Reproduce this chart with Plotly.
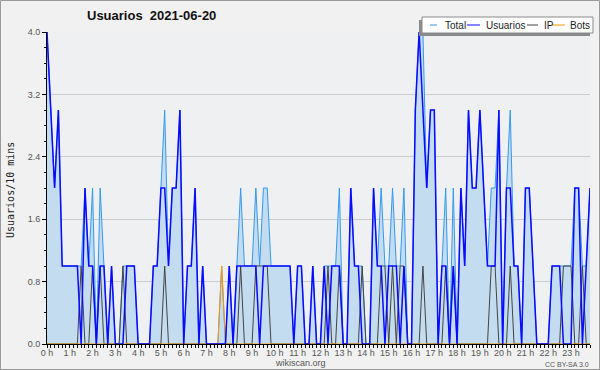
import plotly.graph_objects as go

# 10-minute slots, 0:00 .. 23:50 (144 values)
usuarios = [4,3,2,3,1,1,1,1,1,0, 2,1,1,0,1,1,0,1,0,0,
            0,1,1,1,0,0,0,0,1,1, 2,2,1,2,2,3,0,1,1,2,
            0,1,0,0,0,0,0,0,1,0, 1,1,1,1,1,1,0,1,1,1,
            1,1,1,1,1,0,1,1,0,0, 1,0,0,1,0,1,1,1,0,0,
            2,1,1,0,0,0,2,1,1,0, 1,1,1,0,1,0,0,3,4,3,
            2,3,3,0,1,1,0,1,0,2, 1,3,2,2,3,2,1,1,1,3,
            0,2,2,1,1,0,2,2,1,0, 0,0,0,1,1,1,0,0,0,2,
            2,0,1,2]
ip =       [0,0,0,0,0,0,0,0,0,1, 0,0,1,0,1,0,0,0,0,0,
            1,0,0,0,0,0,0,0,0,0, 0,1,0,0,0,0,0,0,0,0,
            0,0,0,0,0,0,0,0,0,0, 0,1,0,0,0,1,1,1,1,0,
            0,0,0,0,0,0,0,0,0,0, 0,0,0,0,1,0,0,1,0,0,
            0,0,0,1,0,0,0,0,1,1, 0,1,0,1,1,0,0,0,0,1,
            0,0,0,0,0,1,0,1,0,0, 0,0,0,0,0,0,0,1,1,0,
            0,0,1,0,0,0,0,0,0,0, 0,0,0,0,0,0,1,1,1,0,
            0,1,0,0]
bots = [0]*46 + [1] + [0]*97
total =    [4,3,2,3,1,1,1,1,1,1, 2,1,2,0,2,1,0,1,0,0,
            1,1,1,1,0,0,0,0,1,1, 2,3,1,2,2,3,0,1,1,2,
            0,1,0,0,0,0,1,0,1,0, 1,2,1,1,1,2,1,2,2,1,
            1,1,1,1,1,0,1,1,0,0, 1,0,0,1,1,1,1,2,0,0,
            2,1,1,1,0,0,2,1,2,1, 1,2,1,1,2,0,0,3,4,4,
            2,3,3,0,1,2,0,2,0,2, 1,3,2,2,3,2,1,2,2,3,
            0,2,3,1,1,0,2,2,1,0, 0,0,0,1,1,1,1,1,1,2,
            2,1,1,2]
hours = [i / 6 for i in range(144)]
hour_ticks = list(range(24))
hour_labels = [f"{h} h" for h in hour_ticks]
y_ticks = [0.0, 0.8, 1.6, 2.4, 3.2, 4.0]

C_TOTAL = "#3399ee"
C_FILL = "#c4dcf0"
C_USR = "#0a0aff"
C_IP = "#444444"
C_BOT = "#ff9900"

fig = go.Figure()
fig.add_trace(go.Scatter(x=hours, y=total, name="Total", mode="lines",
                         line=dict(color=C_TOTAL, width=1), fill="tozeroy",
                         fillcolor=C_FILL))
fig.add_trace(go.Scatter(x=hours, y=ip, name="IP", mode="lines",
                         line=dict(color=C_IP, width=1)))
fig.add_trace(go.Scatter(x=hours, y=bots, name="Bots", mode="lines",
                         line=dict(color=C_BOT, width=1)))
fig.add_trace(go.Scatter(x=hours, y=usuarios, name="Usuarios", mode="lines",
                         line=dict(color=C_USR, width=1.5)))

L, R, T, B = 47, 10, 32, 26
W, H = 600, 370
pw, ph = W - L - R, H - T - B


def px(xp):
    return (xp - L) / pw


def py(yp):
    return 1 - (yp - T) / ph


shapes = []
annotations = []
# outer border
shapes.append(dict(type="rect", xref="paper", yref="paper",
                   x0=px(0.5), x1=px(599.5), y0=py(369.5), y1=py(0.5),
                   line=dict(color="#9a9a9a", width=1), layer="below"))
# legend box shadow + box
shapes.append(dict(type="rect", xref="paper", yref="paper",
                   x0=px(419), x1=px(590), y0=py(36), y1=py(20),
                   fillcolor="#8a8a8a", line=dict(width=0)))
shapes.append(dict(type="rect", xref="paper", yref="paper",
                   x0=px(422), x1=px(593), y0=py(33), y1=py(17),
                   fillcolor="white", line=dict(color="#8a8a8a", width=1)))
legend_items = [("Total", C_TOTAL, 430, 437, 443),
                ("Usuarios", C_USR, 467, 480, 484),
                ("IP", C_IP, 527, 538, 542),
                ("Bots", C_BOT, 552, 565, 568)]
for name, col, lx0, lx1, tx in legend_items:
    shapes.append(dict(type="line", xref="paper", yref="paper",
                       x0=px(lx0), x1=px(lx1), y0=py(25), y1=py(25),
                       line=dict(color=col, width=1)))
    annotations.append(dict(text=name, xref="paper", yref="paper",
                            x=px(tx), y=py(25), xanchor="left", yanchor="middle",
                            showarrow=False,
                            font=dict(family="Liberation Sans, Arial", size=10,
                                      color="#222222")))

annotations.append(dict(text="<b>Usuarios  2021-06-20</b>", xref="paper", yref="paper",
                        x=px(151), y=py(16), xanchor="center", yanchor="middle",
                        showarrow=False,
                        font=dict(family="Liberation Sans, Arial", size=13,
                                  color="#111111")))
annotations.append(dict(text="Usuarios/10 mins", xref="paper", yref="paper",
                        x=px(10), y=py(190), xanchor="center", yanchor="middle",
                        textangle=-90, showarrow=False,
                        font=dict(family="DejaVu Sans Mono", size=10,
                                  color="#222222")))
annotations.append(dict(text="wikiscan.org", xref="paper", yref="paper",
                        x=px(300), y=py(363), xanchor="center", yanchor="middle",
                        showarrow=False,
                        font=dict(family="Liberation Sans, Arial", size=9,
                                  color="#555555")))
annotations.append(dict(text="CC BY-SA 3.0", xref="paper", yref="paper",
                        x=px(591), y=py(364), xanchor="right", yanchor="middle",
                        showarrow=False,
                        font=dict(family="Liberation Sans, Arial", size=7,
                                  color="#555555")))

fig.update_layout(
    width=W, height=H,
    margin=dict(l=L, r=R, t=T, b=B),
    paper_bgcolor="#f1f1f1",
    plot_bgcolor="#eef0f2",
    showlegend=False,
    shapes=shapes,
    annotations=annotations,
    xaxis=dict(range=[0, 143 / 6], tickmode="array", tickvals=hour_ticks,
               ticktext=hour_labels, ticks="outside", ticklen=3,
               ticklabelstandoff=-3,
               tickcolor="#000", showgrid=False, zeroline=False,
               showline=True, linecolor="#000", linewidth=1,
               tickfont=dict(family="Liberation Sans, Arial", size=9, color="#555"),
               minor=dict(dtick=1 / 6, tick0=0, ticks="outside", ticklen=3,
                          tickcolor="#000", showgrid=False)),
    yaxis=dict(range=[0, 4.0], tickmode="array", tickvals=y_ticks,
               ticktext=[f"{v:.1f}" for v in y_ticks], ticks="outside",
               ticklen=4, tickcolor="#000", showgrid=True, gridcolor="#cccccc",
               zeroline=False, showline=True, linecolor="#000", linewidth=1,
               tickfont=dict(family="Liberation Sans, Arial", size=9, color="#555"),
               minor=dict(dtick=0.2, tick0=0, ticks="outside", ticklen=2,
                          tickcolor="#000", showgrid=False)),
)

fig.write_html("out.html", config={"displayModeBar": False},
               post_script="document.body.style.margin='0';"
                           "document.body.style.overflow='hidden';")
